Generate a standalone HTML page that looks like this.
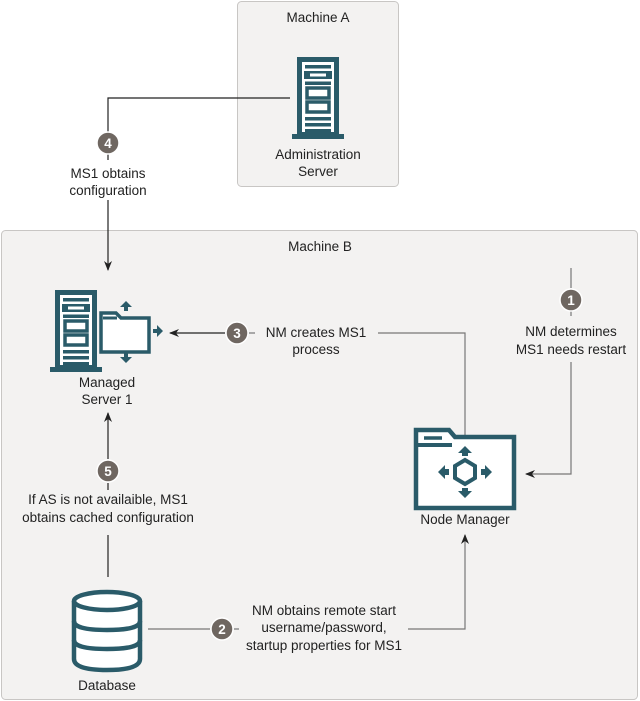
<!DOCTYPE html>
<html><head><meta charset="utf-8"><style>
html,body{margin:0;padding:0;background:#fff}
svg{display:block}
text{font-family:"Liberation Sans",sans-serif;font-size:13.5px;fill:#222}
</style></head><body>
<svg width="640" height="701" viewBox="0 0 640 701" xmlns="http://www.w3.org/2000/svg">
<defs>
<marker id="ah" markerWidth="10" markerHeight="8" refX="9" refY="4" orient="auto" markerUnits="userSpaceOnUse">
<path d="M0,0 L10,4 L0,8 L3,4 Z" fill="#222"/>
</marker>
<g id="srv">
<rect x="2.5" y="2.5" width="37" height="75" fill="#fff" stroke="#2a5b69" stroke-width="5"/>
<rect x="-5" y="77" width="52" height="5" fill="#2a5b69"/>
<rect x="8" y="8" width="26" height="3.5" fill="#2a5b69"/>
<rect x="7" y="14" width="28" height="8" fill="#2a5b69"/>
<rect x="13" y="16.5" width="16" height="3" fill="#fff"/>
<rect x="8" y="24.5" width="26" height="3.5" fill="#2a5b69"/>
<rect x="10" y="31" width="22" height="10" fill="none" stroke="#2a5b69" stroke-width="3.5"/>
<rect x="10" y="45" width="22" height="10" fill="none" stroke="#2a5b69" stroke-width="3.5"/>
<rect x="8" y="60" width="26" height="3.5" fill="#2a5b69"/>
<rect x="8" y="66" width="26" height="3.5" fill="#2a5b69"/>
<rect x="8" y="72" width="26" height="3.5" fill="#2a5b69"/>
</g>
</defs>
<rect x="237.5" y="1.5" width="161" height="185" rx="4" fill="#f3f2f1" stroke="#c8c6c4"/>
<text x="318" y="22" text-anchor="middle" font-size="15.5">Machine A</text>
<rect x="1.5" y="230.5" width="636" height="469" rx="4" fill="#f3f2f1" stroke="#c8c6c4"/>
<text x="320" y="251" text-anchor="middle" font-size="15.5">Machine B</text>

<use href="#srv" x="297" y="57"/>
<text x="318" y="159" text-anchor="middle" font-size="15.5">Administration</text>
<text x="318" y="176" text-anchor="middle" font-size="15.5">Server</text>

<polyline points="290,98 108,98 108,132" fill="none" stroke="#222" stroke-width="1.2"/>
<line x1="108" y1="154" x2="108" y2="160" stroke="#222" stroke-width="1.2"/>
<line x1="108" y1="200" x2="108" y2="270" stroke="#222" stroke-width="1.2" marker-end="url(#ah)"/>
<circle cx="108" cy="143" r="11" fill="#6f6761" stroke="#fff" stroke-width="1.5"/>
<text x="108" y="148" text-anchor="middle" font-size="13" font-weight="bold" style="fill:#fff">4</text>
<text x="108" y="178" text-anchor="middle">MS1 obtains</text>
<text x="108" y="195" text-anchor="middle">configuration</text>

<use href="#srv" x="55" y="290"/>
<path d="M101,352 V313 H116 L121,318 H149 V352 Z" fill="#fff" stroke="#2a5b69" stroke-width="3.5"/>
<line x1="103" y1="318" x2="117" y2="318" stroke="#2a5b69" stroke-width="3"/>
<path d="M126,301 l-6,6 h4 v4 h4 v-4 h4 z" fill="#2a5b69"/>
<path d="M126,363 l-6,-6 h4 v-4 h4 v4 h4 z" fill="#2a5b69"/>
<path d="M163,331 l-6,-6 v4 h-4 v4 h4 v4 z" fill="#2a5b69"/>
<text x="107" y="387" text-anchor="middle" font-size="15.5">Managed</text>
<text x="107" y="404" text-anchor="middle" font-size="15.5">Server 1</text>

<polyline points="465,460 465,333 378,333" fill="none" stroke="#777" stroke-width="1.2"/>
<line x1="249" y1="333" x2="255" y2="333" stroke="#777" stroke-width="1.2"/>
<line x1="225" y1="333" x2="170" y2="333" stroke="#222" stroke-width="1.2" marker-end="url(#ah)"/>
<circle cx="237" cy="333" r="11" fill="#6f6761" stroke="#fff" stroke-width="1.5"/>
<text x="237" y="338" text-anchor="middle" font-size="13" font-weight="bold" style="fill:#fff">3</text>
<text x="316" y="337" text-anchor="middle">NM creates MS1</text>
<text x="316" y="354" text-anchor="middle">process</text>

<line x1="571" y1="268" x2="571" y2="288" stroke="#777" stroke-width="1.2"/>
<line x1="571" y1="311" x2="571" y2="316" stroke="#777" stroke-width="1.2"/>
<polyline points="571,362 571,474 526,474" fill="none" stroke="#777" stroke-width="1.2" marker-end="url(#ah)"/>
<circle cx="571" cy="300" r="11" fill="#6f6761" stroke="#fff" stroke-width="1.5"/>
<text x="571" y="305" text-anchor="middle" font-size="13" font-weight="bold" style="fill:#fff">1</text>
<text x="571" y="336" text-anchor="middle">NM determines</text>
<text x="571" y="354" text-anchor="middle">MS1 needs restart</text>

<path d="M416,508 V430 H449 L455,437 H514 V508 Z" fill="#fff" stroke="#2a5b69" stroke-width="4.5"/>
<line x1="416" y1="445" x2="452" y2="445" stroke="#2a5b69" stroke-width="4"/>
<line x1="424" y1="438" x2="442" y2="438" stroke="#2a5b69" stroke-width="3.5"/>
<polygon points="465,460 475,466 475,478 465,484 455,478 455,466" fill="none" stroke="#2a5b69" stroke-width="4"/>
<path d="M465,446 l-7,7 h4 v3 h6 v-3 h4 z" fill="#2a5b69"/>
<path d="M465,498 l-7,-7 h4 v-3 h6 v3 h4 z" fill="#2a5b69"/>
<path d="M438,472 l7,-7 v4 h4 v6 h-4 v4 z" fill="#2a5b69"/>
<path d="M492,472 l-7,-7 v4 h-4 v6 h4 v4 z" fill="#2a5b69"/>
<text x="465" y="524" text-anchor="middle" font-size="15.5">Node Manager</text>

<line x1="148" y1="629" x2="210" y2="629" stroke="#777" stroke-width="1.2"/>
<line x1="234" y1="629" x2="239" y2="629" stroke="#777" stroke-width="1.2"/>
<polyline points="408,629 465,629 465,535" fill="none" stroke="#777" stroke-width="1.2" marker-end="url(#ah)"/>
<circle cx="222" cy="629" r="11" fill="#6f6761" stroke="#fff" stroke-width="1.5"/>
<text x="222" y="634" text-anchor="middle" font-size="13" font-weight="bold" style="fill:#fff">2</text>
<text x="324" y="615" text-anchor="middle">NM obtains remote start</text>
<text x="324" y="632" text-anchor="middle">username/password,</text>
<text x="324" y="650" text-anchor="middle">startup properties for MS1</text>

<line x1="108" y1="577" x2="108" y2="535" stroke="#222" stroke-width="1.2"/>
<line x1="108" y1="483" x2="108" y2="490" stroke="#222" stroke-width="1.2"/>
<line x1="108" y1="459" x2="108" y2="413" stroke="#222" stroke-width="1.2" marker-end="url(#ah)"/>
<circle cx="108" cy="471" r="11" fill="#6f6761" stroke="#fff" stroke-width="1.5"/>
<text x="108" y="476" text-anchor="middle" font-size="13" font-weight="bold" style="fill:#fff">5</text>
<text x="108" y="504" text-anchor="middle">If AS is not availaible, MS1</text>
<text x="108" y="522" text-anchor="middle">obtains cached configuration</text>

<path d="M74,601 V659 Q74,670 107,670 Q140,670 140,659 V601" fill="#fff" stroke="#2a5b69" stroke-width="4.5"/>
<ellipse cx="107" cy="601" rx="33" ry="9" fill="#fff" stroke="#2a5b69" stroke-width="4.5"/>
<path d="M74,621 Q74,630 107,630 Q140,630 140,621" fill="none" stroke="#2a5b69" stroke-width="4.5"/>
<path d="M74,640 Q74,649 107,649 Q140,649 140,640" fill="none" stroke="#2a5b69" stroke-width="4.5"/>
<text x="107" y="690" text-anchor="middle" font-size="15.5">Database</text>
</svg>
</body></html>
